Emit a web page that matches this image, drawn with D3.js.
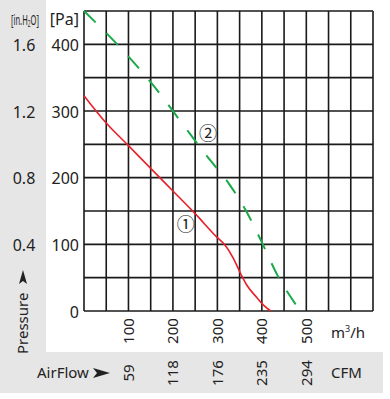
<!DOCTYPE html>
<html><head><meta charset="utf-8">
<script src="https://cdn.jsdelivr.net/npm/d3@7"></script>
<style>body{margin:0;background:#fff}svg{display:block}text{font-family:"Noto Sans",sans-serif;fill:#222}</style>
</head><body>
<script>
// Data
const curve1 = [[0,323],[50,282],[100,248],[150,214],[200,180],[250,146],[300,110],[317,99],[336,79],[353,55],[366,39],[389,20],[405,8],[420,0]];
const curve2 = [[0,450],[83,394],[160,335],[229,274],[277,232],[327,190],[368,146],[400,103],[434,55],[476,10]];
const paTicks = [0,100,200,300,400];
const inH2OLabels = ["1.6","1.2","0.8","0.4"];
const inH2OPa = [400,300,200,100];
const flowTicks = [100,200,300,400,500];
const cfmLabels = ["59","118","176","235","294"];
const curveLabels = [{t:"①",q:229,p:132},{t:"②",q:279,p:268}];

const W=390,H=399;
const svg=d3.select("body").append("svg").attr("width",W).attr("height",H);
const x=d3.scaleLinear().domain([0,650]).range([84,373]);
const y=d3.scaleLinear().domain([0,450]).range([311,11]);

// gray panels
svg.append("rect").attr("x",0).attr("y",0).attr("width",46).attr("height",393).attr("fill","#e6e6e6");
svg.append("rect").attr("x",0).attr("y",352).attr("width",383).attr("height",41).attr("fill","#e6e6e6");

// grid
const g=svg.append("g").attr("stroke","#1a1a1a").attr("stroke-width",1.6);
g.selectAll(".v").data(d3.range(0,651,50)).join("line")
 .attr("x1",d=>x(d)).attr("x2",d=>x(d)).attr("y1",y(450)).attr("y2",y(0));
g.selectAll(".h").data(d3.range(0,451,50)).join("line")
 .attr("x1",x(0)).attr("x2",x(650)).attr("y1",d=>y(d)).attr("y2",d=>y(d));

// curves
const line=d3.line().x(d=>x(d[0])).y(d=>y(d[1])).curve(d3.curveMonotoneX);
svg.append("path").attr("d",line(curve1)).attr("fill","none").attr("stroke","#e8202a").attr("stroke-width",1.6);
const gp=svg.append("path").attr("d",line(curve2)).attr("fill","none").attr("stroke","#1aaa4a").attr("stroke-width",2);
const L=gp.node().getTotalLength();
const k=Math.round((L-17)/33);
const s=L/(k*33+17);
gp.attr("stroke-dasharray",`${17*s},${16*s}`);

// curve labels
svg.selectAll(".cl").data(curveLabels).join("text")
 .attr("x",d=>x(d.q)).attr("y",d=>y(d.p)).attr("text-anchor","middle").attr("dominant-baseline","central")
 .style("font-family","'Noto Sans CJK JP',sans-serif").style("font-size","18px").text(d=>d.t);

// Pa axis labels
svg.selectAll(".pa").data(paTicks).join("text")
 .attr("x",79).attr("y",d=>y(d)+6.5).attr("text-anchor","end").style("font-size","16px").text(d=>d);
svg.append("text").attr("x",79).attr("y",25).attr("text-anchor","end").style("font-size","16px").text("[Pa]");

// inH2O labels
svg.selectAll(".in").data(inH2OLabels).join("text")
 .attr("x",24).attr("y",(d,i)=>y(inH2OPa[i])+6.5).attr("text-anchor","middle").style("font-size","16px").text(d=>d);
const unit=svg.append("text").attr("transform","translate(11,25) scale(0.54,1)").style("font-size","14px");
unit.append("tspan").text("[in.H");
unit.append("tspan").attr("dy",2).style("font-size","9px").text("2");
unit.append("tspan").attr("dy",-2).text("O]");

// Pressure label
const pl=svg.append("g").attr("transform","translate(28,354) rotate(-90)");
pl.append("text").attr("x",0).attr("y",0).style("font-size","15px").text("Pressure");
pl.append("path").attr("d","M70,-9 L84,-5 L70,-1 L73,-5 Z").attr("fill","#222");

// flow ticks
svg.selectAll(".ft").data(flowTicks).join("text")
 .attr("transform",d=>`translate(${x(d)+5.5},331) rotate(-90)`).attr("text-anchor","middle").style("font-size","15px").text(d=>d);
const mh=svg.append("text").attr("x",331).attr("y",338).style("font-size","15px");
mh.append("tspan").text("m");
mh.append("tspan").attr("dy",-6).style("font-size","9px").text("3");
mh.append("tspan").attr("dy",6).text("/h");

// CFM row
svg.selectAll(".cf").data(cfmLabels).join("text")
 .attr("transform",(d,i)=>`translate(${x(flowTicks[i])+5.5},373) rotate(-90)`).attr("text-anchor","middle").style("font-size","15px").text(d=>d);
svg.append("text").attr("x",37).attr("y",378).style("font-size","15px").text("AirFlow");
svg.append("path").attr("d","M93,368 L110,373 L93,378 L97,373 Z").attr("fill","#222");
svg.append("text").attr("x",331).attr("y",378).style("font-size","15px").text("CFM");
</script>
</body></html>
